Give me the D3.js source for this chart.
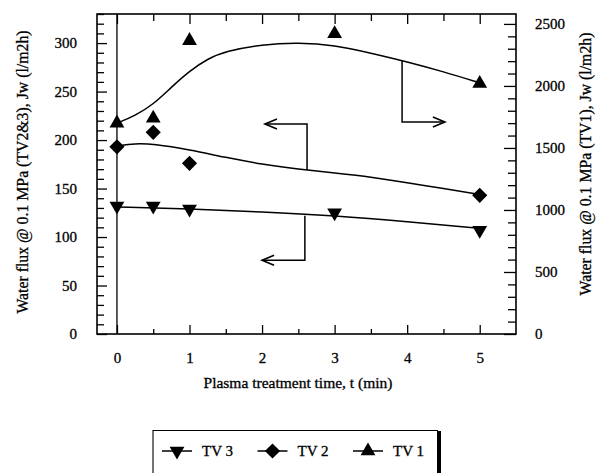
<!DOCTYPE html>
<html>
<head>
<meta charset="utf-8">
<script src="https://cdn.jsdelivr.net/npm/d3@7"></script>
<style>
  html, body { margin: 0; padding: 0; background: #fff; }
  svg { display: block; }
  text { font-family: "Liberation Serif", "Times New Roman", serif; fill: #000; stroke: #000; stroke-width: 0.3px; }
</style>
</head>
<body>
<svg id="chart" width="602" height="473"></svg>
<script>
// Measured points: [time (min), water flux (l/m2h)]
const tv1Points = [[0, 1700], [0.5, 1740], [1, 2365], [3, 2420], [5, 2020]];
const tv2Points = [[0, 193], [0.5, 208], [1, 176], [5, 143]];
const tv3Points = [[0, 132], [0.5, 132], [1, 129], [3, 125], [5, 107]];

// Smoothed trend curves for each series
const tv1Fit = [[0, 1700], [0.25, 1760], [0.5, 1850], [0.75, 1990], [1, 2120], [1.25, 2220],
                [1.5, 2280], [2, 2335], [2.5, 2350], [3, 2330], [3.5, 2265], [4, 2195],
                [4.5, 2115], [5, 2025]];
const tv2Fit = [[0, 194], [0.25, 196.5], [0.5, 196], [1, 190], [1.5, 182], [2, 175],
                [2.5, 170], [3, 166], [3.5, 162], [4, 156], [4.5, 150], [5, 144]];
const tv3Fit = [[0, 131], [1, 129], [2, 126], [3, 122], [4, 116], [5, 109]];

// Axis ticks
const xTicks = [0, 1, 2, 3, 4, 5];
const xMinor = [0.5, 1.5, 2.5, 3.5, 4.5];
const leftTicks = [0, 50, 100, 150, 200, 250, 300];
const rightTicks = [0, 500, 1000, 1500, 2000, 2500];

// Pointer arrows linking each curve to its axis: [x, y] on the curve, elbow, tip
const arrowTV2 = { axis: "left",  path: [[2.62, 169], [2.62, 216.5], [2.04, 216.5]] };
const arrowTV3 = { axis: "left",  path: [[2.59, 122], [2.59, 76], [2.0, 76]] };
const arrowTV1 = { axis: "right", path: [[3.93, 2205], [3.93, 1710], [4.52, 1710]] };

const legendItems = [
  { name: "TV 3", shape: "down" },
  { name: "TV 2", shape: "diamond" },
  { name: "TV 1", shape: "up" }
];

const svg = d3.select("#chart");
const plot = { left: 97, right: 516, top: 14, bottom: 334 };

const x = d3.scaleLinear().domain([-0.275, 5.5]).range([plot.left, plot.right]);
const yL = d3.scaleLinear().domain([0, 330]).range([plot.bottom, plot.top]);
const yR = d3.scaleLinear().domain([0, 2580]).range([plot.bottom, plot.top]);
const fmt = d3.format("d");

// Marker shapes
const symDown = {
  draw(ctx, size) {
    const s = Math.sqrt(size / (Math.sqrt(3) / 4));
    const h = s * Math.sqrt(3) / 2;
    ctx.moveTo(-s / 2, -h / 3);
    ctx.lineTo(s / 2, -h / 3);
    ctx.lineTo(0, 2 * h / 3);
    ctx.closePath();
  }
};
const symUp = {
  draw(ctx, size) {
    const s = Math.sqrt(size / (Math.sqrt(3) / 4));
    const h = s * Math.sqrt(3) / 2;
    ctx.moveTo(-s / 2, h / 3);
    ctx.lineTo(s / 2, h / 3);
    ctx.lineTo(0, -2 * h / 3);
    ctx.closePath();
  }
};
const symDiamond = {
  draw(ctx, size) {
    const r = Math.sqrt(size / 2);
    ctx.moveTo(0, -r);
    ctx.lineTo(r, 0);
    ctx.lineTo(0, r);
    ctx.lineTo(-r, 0);
    ctx.closePath();
  }
};
const shapes = {
  up: d3.symbol().type(symUp).size(95),
  down: d3.symbol().type(symDown).size(95),
  diamond: d3.symbol().type(symDiamond).size(115)
};

// Frame
svg.append("rect")
  .attr("x", plot.left).attr("y", plot.top)
  .attr("width", plot.right - plot.left).attr("height", plot.bottom - plot.top)
  .attr("fill", "none").attr("stroke", "#000").attr("stroke-width", 1.6);

function tickGroup(axis, transform) {
  const g = svg.append("g").attr("transform", transform).call(axis);
  g.select(".domain").remove();
  g.selectAll(".tick line").attr("stroke", "#000").attr("stroke-width", 1.3);
  return g;
}

// Left axis ticks (pointing inward)
tickGroup(d3.axisRight(yL).tickValues(d3.range(0, 331, 10).filter(v => v % 50 !== 0)).tickSize(7).tickFormat(""),
  `translate(${plot.left},0)`);
tickGroup(d3.axisRight(yL).tickValues(leftTicks).tickSize(10).tickFormat(""),
  `translate(${plot.left},0)`);
// Right axis ticks (pointing inward)
tickGroup(d3.axisLeft(yR).tickValues(d3.range(0, 2581, 100).filter(v => v % 500 !== 0)).tickSize(8).tickFormat(""),
  `translate(${plot.right},0)`);
tickGroup(d3.axisLeft(yR).tickValues(rightTicks).tickSize(12).tickFormat(""),
  `translate(${plot.right},0)`);
// Bottom and top ticks
tickGroup(d3.axisTop(x).tickValues(xTicks).tickSize(9).tickFormat(""), `translate(0,${plot.bottom})`);
tickGroup(d3.axisTop(x).tickValues(xMinor).tickSize(5).tickFormat(""), `translate(0,${plot.bottom})`);
tickGroup(d3.axisBottom(x).tickValues(xTicks).tickSize(10).tickFormat(""), `translate(0,${plot.top})`);
tickGroup(d3.axisBottom(x).tickValues(xMinor).tickSize(7).tickFormat(""), `translate(0,${plot.top})`);

// Tick labels
function labelGroup(axis, transform) {
  const g = svg.append("g").attr("transform", transform).call(axis);
  g.select(".domain").remove();
  g.selectAll(".tick line").remove();
  g.selectAll("text").attr("font-family", '"Liberation Serif", serif').attr("font-size", 15).attr("fill", "#000");
  return g;
}
labelGroup(d3.axisLeft(yL).tickValues(leftTicks).tickSize(0).tickPadding(20).tickFormat(fmt), `translate(${plot.left},0)`);
labelGroup(d3.axisRight(yR).tickValues(rightTicks).tickSize(0).tickPadding(19).tickFormat(fmt), `translate(${plot.right},0)`);
labelGroup(d3.axisBottom(x).tickValues(xTicks).tickSize(0).tickPadding(18).tickFormat(fmt), `translate(0,${plot.bottom})`);

// Vertical reference line at t = 0
svg.append("line")
  .attr("x1", x(0)).attr("x2", x(0))
  .attr("y1", plot.top).attr("y2", plot.bottom)
  .attr("stroke", "#000").attr("stroke-width", 1.3);

// Axis titles
svg.append("text")
  .attr("transform", "translate(22,172) rotate(-90)")
  .attr("text-anchor", "middle").attr("dominant-baseline", "central")
  .attr("font-size", 15.8)
  .text("Water flux @ 0.1 MPa (TV2&3), Jw (l/m2h)");
svg.append("text")
  .attr("transform", "translate(585,164) rotate(-90)")
  .attr("text-anchor", "middle").attr("dominant-baseline", "central")
  .attr("font-size", 15.8)
  .text("Water flux @ 0.1 MPa (TV1), Jw (l/m2h)");
svg.append("text")
  .attr("x", 298).attr("y", 388)
  .attr("text-anchor", "middle")
  .attr("font-size", 15.5)
  .text("Plasma treatment time, t (min)");

// Trend curves
const lineL = d3.line().x(d => x(d[0])).y(d => yL(d[1])).curve(d3.curveBasis);
const lineR = d3.line().x(d => x(d[0])).y(d => yR(d[1])).curve(d3.curveBasis);
[[tv1Fit, lineR], [tv2Fit, lineL], [tv3Fit, lineL]].forEach(([data, gen]) => {
  svg.append("path").attr("d", gen(data))
    .attr("fill", "none").attr("stroke", "#000").attr("stroke-width", 1.5);
});

// Markers
function drawMarkers(points, yScale, shape) {
  svg.append("g").selectAll("path").data(points).join("path")
    .attr("transform", d => `translate(${x(d[0])},${yScale(d[1])})`)
    .attr("d", shapes[shape]())
    .attr("fill", "#000");
}
drawMarkers(tv3Points, yL, "down");
drawMarkers(tv2Points, yL, "diamond");
drawMarkers(tv1Points, yR, "up");

// Pointer arrows
[arrowTV2, arrowTV3, arrowTV1].forEach(a => {
  const ys = a.axis === "left" ? yL : yR;
  const pts = a.path.map(p => [x(p[0]), ys(p[1])]);
  svg.append("path").attr("d", d3.line()(pts))
    .attr("fill", "none").attr("stroke", "#000").attr("stroke-width", 1.5);
  const tip = pts[pts.length - 1];
  const prev = pts[pts.length - 2];
  const dir = Math.sign(tip[0] - prev[0]);
  const head = [[tip[0] - dir * 12, tip[1] - 5], tip, [tip[0] - dir * 12, tip[1] + 5]];
  svg.append("path").attr("d", d3.line()(head))
    .attr("fill", "none").attr("stroke", "#000").attr("stroke-width", 1.6);
});

// Legend
const legend = svg.append("g");
legend.append("path")
  .attr("d", "M153,480 V430.5 H438")
  .attr("fill", "none").attr("stroke", "#000").attr("stroke-width", 1.1);
legend.append("line")
  .attr("x1", 439).attr("x2", 439).attr("y1", 431).attr("y2", 480)
  .attr("stroke", "#000").attr("stroke-width", 4);
const legendX = d3.scalePoint().domain(legendItems.map(d => d.name)).range([177, 368]);
const ly = 451;
const li = legend.selectAll("g.item").data(legendItems).join("g")
  .attr("class", "item")
  .attr("transform", d => `translate(${legendX(d.name)},${ly})`);
li.append("line").attr("x1", -15).attr("x2", 15).attr("y1", 0).attr("y2", 0)
  .attr("stroke", "#000").attr("stroke-width", 1.5);
li.append("path").attr("d", d => shapes[d.shape]()).attr("fill", "#000");
li.append("text").attr("x", 25).attr("y", 0).attr("dy", "0.33em")
  .attr("font-size", 15).text(d => d.name);
</script>
</body>
</html>
